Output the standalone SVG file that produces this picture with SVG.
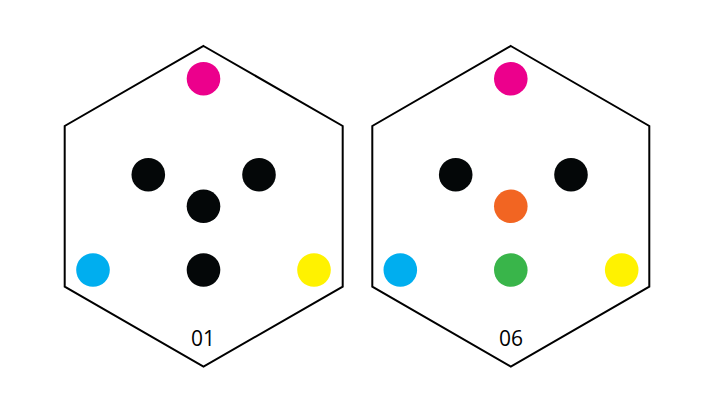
<svg xmlns="http://www.w3.org/2000/svg" width="715" height="413" viewBox="0 0 715 413">
<style>
.hex{fill:none;stroke:#000;stroke-width:2}
.lbl{font-family:"Open Sans","Liberation Sans",sans-serif;font-size:21px;fill:#000;text-anchor:middle}
.k{fill:#040708}.m{fill:#EC008C}.c{fill:#00AEEF}.y{fill:#FFF200}.o{fill:#F26522}.g{fill:#39B54A}
</style>
<rect width="715" height="413" fill="#fff"/>
<g id="hex01">
<polygon class="hex" points="203.5,46 342.7,126 342.7,286.7 203.5,366.5 64.7,286.7 64.7,126"/>
<circle class="m" cx="203.5" cy="78.7" r="16.8"/>
<circle class="k" cx="148.3" cy="174.7" r="16.8"/>
<circle class="k" cx="259" cy="174.7" r="16.8"/>
<circle class="k" cx="203.5" cy="206.3" r="16.8"/>
<circle class="k" cx="203.5" cy="270" r="16.8"/>
<circle class="c" cx="93" cy="270" r="16.8"/>
<circle class="y" cx="314" cy="270" r="16.8"/>
<text class="lbl" x="203" y="345.5">01</text>
</g>
<g id="hex06">
<polygon class="hex" points="510.8,46 649.3,126 649.3,286.7 510.8,366.5 372.3,286.7 372.3,126"/>
<circle class="m" cx="510.8" cy="78.7" r="16.8"/>
<circle class="k" cx="455.7" cy="174.7" r="16.8"/>
<circle class="k" cx="571" cy="174.7" r="16.8"/>
<circle class="o" cx="510.8" cy="206.3" r="16.8"/>
<circle class="g" cx="510.8" cy="270" r="16.8"/>
<circle class="c" cx="400.3" cy="270" r="16.8"/>
<circle class="y" cx="621.7" cy="270" r="16.8"/>
<text class="lbl" x="511" y="345.5">06</text>
</g>
<g id="connectors"/>
</svg>
